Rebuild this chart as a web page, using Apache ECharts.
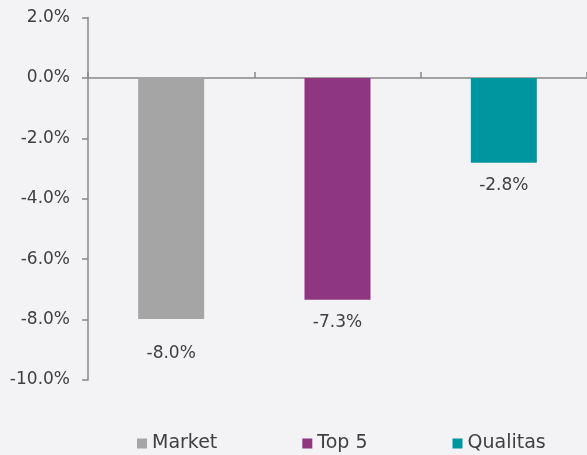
<!DOCTYPE html>
<html><head><meta charset="utf-8">
<script src="https://cdn.jsdelivr.net/npm/echarts@6/dist/echarts.min.js"></script>
<style>html,body{margin:0;padding:0;background:#f3f3f6;}#c{width:587px;height:455px;}</style>
</head><body><div id="c"></div>
<script>
const categories = ['Market', 'Top 5', 'Qualitas'];
const values = [-7.98, -7.34, -2.81];
const colors = ['#a5a5a5', '#8e3680', '#00969f'];
const yMin = -10, yMax = 2, yStep = 2;

const labelDistance = [26, 14, 14];
const chart = echarts.init(document.getElementById('c'));
const font = 'DejaVu Sans';
const series = categories.map((name, i) => ({
  name: name,
  type: 'bar',
  stack: 'all',
  barWidth: 66,
  itemStyle: { color: colors[i] },
  data: categories.map((c, j) => j === i ? values[i] : '-'),
  label: {
    show: true, position: 'bottom', distance: labelDistance[i],
    fontFamily: font, fontSize: 17, color: '#404040',
    formatter: p => p.value.toFixed(1) + '%'
  }
}));
chart.setOption({
  backgroundColor: '#f3f3f6',
  animation: false,
  grid: { left: 88, right: 0, top: 17.5, bottom: 75 },
  legend: {
    left: 137, top: 434, padding: 0,
    itemWidth: 10, itemHeight: 10, itemGap: 85,
    icon: 'rect',
    textStyle: { fontFamily: font, fontSize: 19, color: '#404040' },
    data: categories
  },
  xAxis: {
    type: 'category', data: categories,
    axisLine: { lineStyle: { color: '#888888', width: 1.5 } },
    axisTick: { show: true, inside: true, length: 6, lineStyle: { color: '#888888', width: 1.5 } },
    axisLabel: { show: false }
  },
  yAxis: {
    type: 'value', min: yMin, max: yMax, interval: yStep,
    splitLine: { show: false },
    axisLine: { show: true, lineStyle: { color: '#888888', width: 1.5 } },
    axisTick: { show: true, length: 6, lineStyle: { color: '#888888', width: 1.5 } },
    axisLabel: {
      fontFamily: font, fontSize: 17, color: '#404040', margin: 18,
      formatter: v => v.toFixed(1) + '%'
    }
  },
  series: series
});
</script></body></html>
